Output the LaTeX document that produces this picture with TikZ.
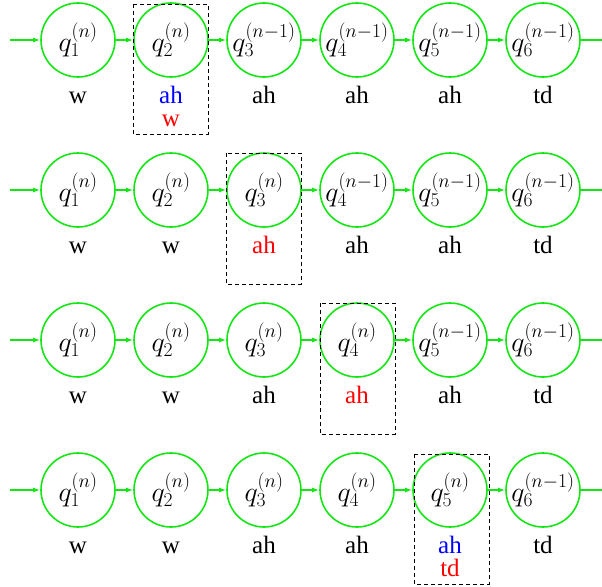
\RequirePackage{fix-cm}
\documentclass[tikz,border=0pt]{standalone}
\usepackage{fontspec}
\setmainfont{Liberation Serif}
\usetikzlibrary{arrows.meta}
\definecolor{sgreen}{RGB}{20,230,20}
\tikzset{
  st/.style={circle,draw=sgreen,line width=1.6pt,minimum size=74pt,inner sep=0pt,font=\fontsize{28}{30}\selectfont},
  conn/.style={draw=sgreen,line width=1.4pt,-{Latex[length=7pt,width=5pt]}},
  lab/.style={font=\fontsize{25}{28}\selectfont,inner sep=0pt,anchor=base,text height=16pt,text depth=0pt},
  selbox/.style={draw,dashed,line width=0.8pt,dash pattern=on 4pt off 3pt}
}
\begin{document}
\begin{tikzpicture}[x=1pt,y=-1pt]
\useasboundingbox (0,0) rectangle (602,586);
\foreach \r/\cy in {1/40,2/190,3/340,4/490}{
  \coordinate (in\r) at (10,\cy);
  \coordinate (out\r) at (602,\cy);
}
% Row 1
\node[st] (a1) at (78,40) {$q_1^{(n)}$};
\node[st] (a2) at (171,40) {$q_2^{(n)}$};
\node[st] (a3) at (264,40) {$q_3^{(n-1)}$};
\node[st] (a4) at (357,40) {$q_4^{(n-1)}$};
\node[st] (a5) at (450,40) {$q_5^{(n-1)}$};
\node[st] (a6) at (543,40) {$q_6^{(n-1)}$};
% Row 2
\node[st] (b1) at (78,190) {$q_1^{(n)}$};
\node[st] (b2) at (171,190) {$q_2^{(n)}$};
\node[st] (b3) at (264,190) {$q_3^{(n)}$};
\node[st] (b4) at (357,190) {$q_4^{(n-1)}$};
\node[st] (b5) at (450,190) {$q_5^{(n-1)}$};
\node[st] (b6) at (543,190) {$q_6^{(n-1)}$};
% Row 3
\node[st] (c1) at (78,340) {$q_1^{(n)}$};
\node[st] (c2) at (171,340) {$q_2^{(n)}$};
\node[st] (c3) at (264,340) {$q_3^{(n)}$};
\node[st] (c4) at (357,340) {$q_4^{(n)}$};
\node[st] (c5) at (450,340) {$q_5^{(n-1)}$};
\node[st] (c6) at (543,340) {$q_6^{(n-1)}$};
% Row 4
\node[st] (d1) at (78,490) {$q_1^{(n)}$};
\node[st] (d2) at (171,490) {$q_2^{(n)}$};
\node[st] (d3) at (264,490) {$q_3^{(n)}$};
\node[st] (d4) at (357,490) {$q_4^{(n)}$};
\node[st] (d5) at (450,490) {$q_5^{(n)}$};
\node[st] (d6) at (543,490) {$q_6^{(n-1)}$};
% connectors
\foreach \r/\p in {1/a,2/b,3/c,4/d}{
  \draw[conn] (in\r) -- (\p1);
  \draw[conn] (\p1) -- (\p2);
  \draw[conn] (\p2) -- (\p3);
  \draw[conn] (\p3) -- (\p4);
  \draw[conn] (\p4) -- (\p5);
  \draw[conn] (\p5) -- (\p6);
  \draw[draw=sgreen,line width=1.4pt] (\p6) -- (out\r);
}
% labels row 1
\node[lab] (la1) at (78,103) {w};
\node[lab,text=blue] (la2) at (171,103) {ah};
\node[lab,text=red] (la2b) at (171,126) {w};
\node[lab] (la3) at (264,103) {ah};
\node[lab] (la4) at (357,103) {ah};
\node[lab] (la5) at (450,103) {ah};
\node[lab] (la6) at (543,103) {td};
% labels row 2
\node[lab] (lb1) at (78,253) {w};
\node[lab] (lb2) at (171,253) {w};
\node[lab,text=red] (lb3) at (264,253) {ah};
\node[lab] (lb4) at (357,253) {ah};
\node[lab] (lb5) at (450,253) {ah};
\node[lab] (lb6) at (543,253) {td};
% labels row 3
\node[lab] (lc1) at (78,403) {w};
\node[lab] (lc2) at (171,403) {w};
\node[lab] (lc3) at (264,403) {ah};
\node[lab,text=red] (lc4) at (357,403) {ah};
\node[lab] (lc5) at (450,403) {ah};
\node[lab] (lc6) at (543,403) {td};
% labels row 4
\node[lab] (ld1) at (78,553) {w};
\node[lab] (ld2) at (171,553) {w};
\node[lab] (ld3) at (264,553) {ah};
\node[lab] (ld4) at (357,553) {ah};
\node[lab,text=blue] (ld5) at (450,553) {ah};
\node[lab,text=red] (ld5b) at (450,576) {td};
\node[lab] (ld6) at (543,553) {td};
% dashed boxes
\draw[selbox] (133,4) rectangle (208,134);
\draw[selbox] (226,153) rectangle (301,284);
\draw[selbox] (320,303) rectangle (395,434);
\draw[selbox] (414,454) rectangle (489,584);
\end{tikzpicture}
\end{document}
